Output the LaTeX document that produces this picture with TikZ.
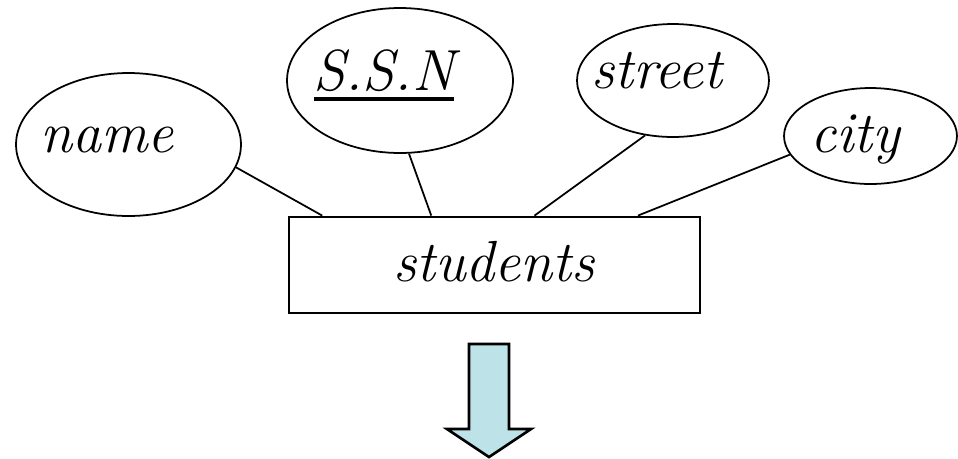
\documentclass[tikz,border=0pt]{standalone}
\usepackage{fontspec}
\usetikzlibrary{shapes.geometric}
\definecolor{arrcyan}{HTML}{BDE3E8}
\newsavebox{\ulsave}
\newcommand{\thickul}[1]{\sbox{\ulsave}{#1}\rlap{\usebox{\ulsave}}\rule[-6.3pt]{\wd\ulsave}{2.3pt}}

\begin{document}
\begin{tikzpicture}[
  x=0.02cm, y=-0.02cm,
  attr/.style={draw, ellipse, line width=1pt, inner sep=0pt},
  ent/.style={draw, rectangle, line width=1.6pt, inner sep=0pt, minimum width=8.22cm, minimum height=1.92cm},
  lbl/.style={anchor=base, inner sep=0pt, font=\fontsize{33}{38}\selectfont\itshape},
  lnk/.style={line width=1pt},
  bigarr/.style={draw, line width=1.5pt, fill=arrcyan, line join=miter},
]
  \useasboundingbox (0,0) rectangle (958,458);

  % attributes
  \node[attr, minimum width=4.5cm, minimum height=2.86cm] (name) at (128.5,144.5) {};
  \node[attr, minimum width=4.52cm, minimum height=2.9cm] (ssn) at (400,80.5) {};
  \node[attr, minimum width=3.84cm, minimum height=2.26cm] (street) at (673,80.5) {};
  \node[attr, minimum width=3.46cm, minimum height=1.92cm] (city) at (870.5,136) {};

  \node[lbl] (nametxt) at (107,152) {name};
  \node[lbl] (ssntxt) at (384,90) {\thickul{S.S.N}};
  \node[lbl] (streettxt) at (657,88) {street};
  \node[lbl] (citytxt) at (855,152) {city};

  % entity
  \node[ent] (students) at (494.5,265) {};
  \node[lbl] (studtxt) at (494,281) {students};

  \draw[lnk] (name.-12) -- (students.164.8);
  \draw[lnk] (ssn.-83.7) -- (students.142);
  \draw[lnk] (street.-117.2) -- (students.51.3);
  \draw[lnk] (city.-167.2) -- (students.19.2);

  % down arrow
  \draw[bigarr] (469,344) -- (509,344) -- (509,429) -- (531,429) -- (489,457)
    -- (447,429) -- (469,429) -- cycle;
\end{tikzpicture}
\end{document}
